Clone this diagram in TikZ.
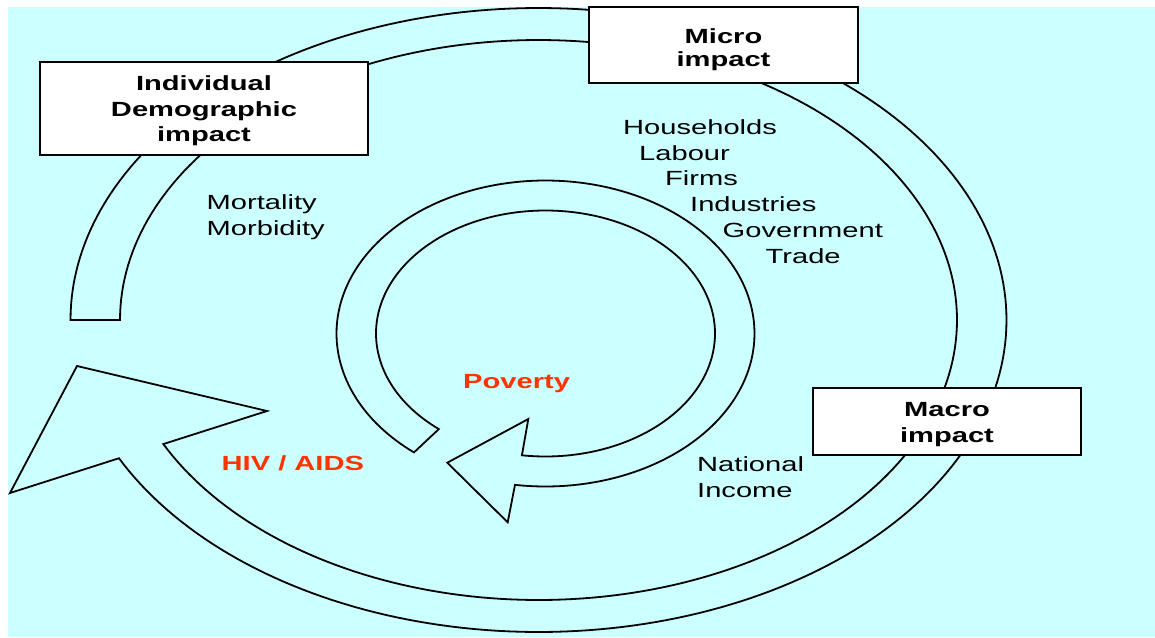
\documentclass[tikz,border=0pt]{standalone}
\usepackage{fontspec}
\setmainfont{Liberation Sans}[FakeStretch=1.42]
\definecolor{sky}{RGB}{204,255,255}
\definecolor{alert}{RGB}{255,51,0}
\begin{document}
\begin{tikzpicture}[x=1pt,y=-1pt,
  txt/.style={font=\fontsize{20.5}{25.8}\selectfont, inner sep=0pt},
  lbl/.style={txt, anchor=base west},
  ttl/.style={txt, anchor=base, font=\fontsize{20.5}{25.8}\selectfont\bfseries},
  hot/.style={lbl, text=alert, font=\fontsize{20.5}{25.8}\selectfont\bfseries},
  box/.style={draw=black, line width=2pt, fill=white, inner sep=0pt},
  ring/.style={draw=black, line width=1.8pt, line join=miter}]

% page and panel
\useasboundingbox (0,0) rectangle (1155,637);
\fill[white] (0,0) rectangle (1155,637);
\fill[sky] (8,7) rectangle (1155,637);

% outer cycle: elliptical band ending in a broad arrowhead
\coordinate (obarbA) at (10,493);
\coordinate (otip)   at (77,366);
\coordinate (obarbB) at (267,411);
\path[ring]
  plot[domain=180:513.7, samples=240] ({538.5+468*cos(\x)},{320+312*sin(\x)})
  -- (obarbA) -- (otip) -- (obarbB)
  -- plot[domain=513.7:180, samples=240] ({538.5+418.5*cos(\x)},{320+280*sin(\x)})
  -- cycle;

% inner cycle around Poverty
\coordinate (ibarbA) at (507.7,522.3);
\coordinate (itip)   at (447.3,462.7);
\coordinate (ibarbB) at (528.3,419);
\path[ring]
  plot[domain=129:458.4, samples=200] ({545.5+209*cos(\x)},{333.5+153*sin(\x)})
  -- (ibarbA) -- (itip) -- (ibarbB)
  -- plot[domain=458:129, samples=200] ({545.5+169.5*cos(\x)},{333.5+123*sin(\x)})
  -- cycle;

% stage boxes
\node[box, minimum width=328, minimum height=93] (indiv) at (204,108.5) {};
\node[box, minimum width=269, minimum height=76] (micro) at (723.5,45) {};
\node[box, minimum width=268, minimum height=67] (macro) at (947,421.5) {};

\node[ttl] (indivA) at (204,90.7)  {Individual};
\node[ttl] (indivB) at (204,116.7) {Demographic};
\node[ttl] (indivC) at (204,141.7) {impact};

\node[ttl] (microA) at (723.5,43.3) {Micro};
\node[ttl] (microB) at (723.5,66.7) {impact};

\node[ttl] (macroA) at (947,416.7) {Macro};
\node[ttl] (macroB) at (947,442.7) {impact};

% effects at each level
\node[lbl] (mort)  at (206.5,209.3) {Mortality};
\node[lbl] (morb)  at (206.5,235)   {Morbidity};

\node[lbl] (house) at (623,134)   {Households};
\node[lbl] (labour) at (639,160)  {Labour};
\node[lbl] (firms) at (665,185.5) {Firms};
\node[lbl] (indus) at (690,211.3) {Industries};
\node[lbl] (govt)  at (722.5,237.3) {Government};
\node[lbl] (trade) at (765.5,263.3) {Trade};

\node[lbl] (natl)  at (697,471.5) {National};
\node[lbl] (inc)   at (697,497)   {Income};

% drivers
\node[hot] (pov) at (463,388.3) {Poverty};
\node[hot] (hiv) at (221.5,470.7) {HIV / AIDS};
\end{tikzpicture}
\end{document}
